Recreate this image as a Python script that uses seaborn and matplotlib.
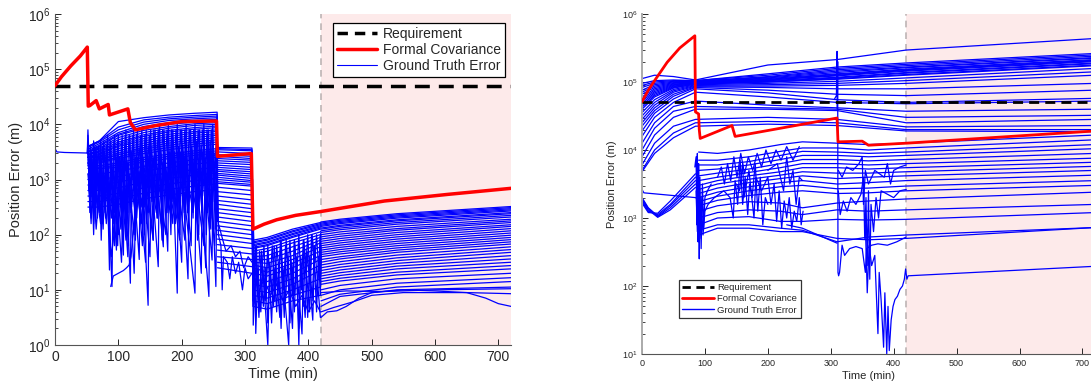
import numpy as np
import pandas as pd
import seaborn as sns
import matplotlib.pyplot as plt
from matplotlib.lines import Line2D

# 所有误差值以 log10(m) 记录

# ---------- 左图 ----------
left_red_t = [0, 10, 25, 40, 51, 52.5, 55, 65, 70, 84, 86, 115, 119, 127, 160, 200, 255,
              256.5, 310, 312.5, 330, 350, 380, 420, 520, 620, 720]
left_red_v = [4.70, 4.86, 5.06, 5.24, 5.40, 4.33, 4.34, 4.43, 4.28, 4.36, 4.17, 4.28, 4.03,
              3.90, 3.98, 4.05, 4.06, 3.42, 3.47, 2.10, 2.19, 2.27, 2.35, 2.42, 2.61, 2.73, 2.84]

left_pre_t = [0, 3, 15, 51]
left_pre_v = [3.56, 3.50, 3.49, 3.48]

# 阶段 B (52-256 min)
left_b_t = [52, 70, 100, 140, 180, 220, 256]
left_b = [
    [3.60, 3.70, 4.05, 4.12, 4.17, 4.20, 4.22],
    [3.60, 3.70, 3.95, 4.08, 4.13, 4.16, 4.18],
    [3.58, 3.68, 3.90, 4.04, 4.10, 4.13, 4.15],
    [3.55, 3.65, 3.85, 4.00, 4.07, 4.10, 4.12],
    [3.52, 3.62, 3.82, 3.96, 4.03, 4.07, 4.09],
    [3.50, 3.60, 3.80, 3.93, 4.00, 4.04, 4.06],
    [3.50, 3.57, 3.76, 3.89, 3.96, 4.01, 4.03],
    [3.50, 3.55, 3.72, 3.85, 3.93, 3.98, 4.00],
    [3.47, 3.52, 3.68, 3.81, 3.89, 3.94, 3.97],
    [3.45, 3.50, 3.65, 3.78, 3.86, 3.91, 3.94],
    [3.42, 3.47, 3.62, 3.74, 3.82, 3.87, 3.90],
    [3.40, 3.45, 3.60, 3.70, 3.78, 3.84, 3.87],
    [3.40, 3.42, 3.56, 3.66, 3.74, 3.80, 3.83],
    [3.40, 3.40, 3.52, 3.62, 3.70, 3.76, 3.80],
    [3.37, 3.37, 3.48, 3.58, 3.66, 3.72, 3.76],
    [3.35, 3.35, 3.45, 3.55, 3.62, 3.68, 3.72],
    [3.32, 3.32, 3.41, 3.51, 3.58, 3.64, 3.68],
    [3.30, 3.30, 3.38, 3.47, 3.54, 3.60, 3.64],
    [3.30, 3.25, 3.30, 3.40, 3.46, 3.52, 3.56],
    [3.25, 3.22, 3.26, 3.36, 3.42, 3.48, 3.52],
    [3.20, 3.20, 3.22, 3.32, 3.38, 3.44, 3.48],
    [3.10, 3.10, 3.15, 3.24, 3.30, 3.36, 3.40],
    [3.00, 3.00, 3.05, 3.15, 3.22, 3.28, 3.32],
    [2.90, 2.90, 2.95, 3.05, 3.12, 3.18, 3.22],
    [2.80, 2.80, 2.85, 2.95, 3.02, 3.08, 3.12],
    [2.70, 2.70, 2.75, 2.85, 2.92, 2.98, 3.02],
    [2.60, 2.60, 2.65, 2.75, 2.82, 2.88, 2.92],
    [2.50, 2.50, 2.55, 2.65, 2.72, 2.78, 2.82],
]

# 阶段 C (256-311 min)
left_c_t = [256.5, 311]
left_c = [
    [3.58, 3.57], [3.56, 3.54], [3.54, 3.52], [3.50, 3.47], [3.45, 3.42], [3.42, 3.38],
    [3.38, 3.35], [3.34, 3.31], [3.30, 3.27], [3.26, 3.22], [3.22, 3.18], [3.18, 3.14],
    [3.15, 3.10], [3.11, 3.06], [3.08, 3.02], [3.04, 2.98], [3.00, 2.95], [2.96, 2.91],
    [2.93, 2.88], [2.86, 2.80], [2.78, 2.72], [2.70, 2.63], [2.62, 2.55], [2.55, 2.47],
    [2.47, 2.40], [2.40, 2.32], [2.32, 2.24], [2.24, 2.16], [2.16, 2.08], [2.08, 2.00],
    [2.00, 1.92], [1.92, 1.84], [1.82, 1.75], [1.72, 1.65], [1.60, 1.55], [1.50, 1.42],
    [1.40, 1.30],
]

# 阶段 D (312-419 min)
left_d_t = [312.5, 335, 375, 419]
left_d = [
    [1.90, 1.95, 2.10, 2.22], [1.87, 1.92, 2.07, 2.20], [1.85, 1.90, 2.05, 2.18],
    [1.82, 1.87, 2.02, 2.16], [1.80, 1.85, 2.00, 2.14], [1.77, 1.82, 1.97, 2.12],
    [1.75, 1.80, 1.95, 2.10], [1.70, 1.75, 1.90, 2.05], [1.65, 1.70, 1.85, 2.00],
    [1.60, 1.62, 1.78, 1.95], [1.55, 1.55, 1.70, 1.90], [1.50, 1.48, 1.62, 1.85],
    [1.45, 1.40, 1.55, 1.78], [1.40, 1.32, 1.48, 1.70], [1.30, 1.25, 1.40, 1.62],
    [1.20, 1.15, 1.30, 1.55], [1.10, 1.05, 1.20, 1.45], [1.00, 0.95, 1.10, 1.35],
    [0.90, 0.85, 1.00, 1.20], [0.80, 0.75, 0.90, 1.05], [0.70, 0.65, 0.80, 0.90],
]

# 阶段 E (420-720 min)
left_e_t = [420, 450, 540, 720]
left_e = [
    [2.23, 2.28, 2.38, 2.51], [2.21, 2.26, 2.36, 2.49], [2.19, 2.24, 2.34, 2.47],
    [2.17, 2.22, 2.32, 2.45], [2.15, 2.20, 2.30, 2.43], [2.12, 2.17, 2.27, 2.40],
    [2.10, 2.15, 2.25, 2.38], [2.07, 2.12, 2.22, 2.35], [2.04, 2.09, 2.19, 2.32],
    [2.00, 2.05, 2.15, 2.28], [1.96, 2.01, 2.11, 2.25], [1.92, 1.97, 2.08, 2.22],
    [1.88, 1.93, 2.04, 2.18], [1.84, 1.89, 2.00, 2.15], [1.80, 1.85, 1.96, 2.11],
    [1.76, 1.81, 1.92, 2.07], [1.72, 1.77, 1.88, 2.03], [1.68, 1.73, 1.84, 1.99],
    [1.64, 1.69, 1.80, 1.95], [1.60, 1.65, 1.76, 1.91], [1.55, 1.60, 1.72, 1.87],
    [1.50, 1.56, 1.68, 1.83], [1.45, 1.51, 1.63, 1.78], [1.40, 1.46, 1.58, 1.73],
    [1.35, 1.41, 1.53, 1.68], [1.30, 1.36, 1.48, 1.62], [1.25, 1.31, 1.43, 1.56],
    [1.20, 1.26, 1.38, 1.50], [1.15, 1.21, 1.32, 1.44], [1.10, 1.16, 1.27, 1.38],
    [1.00, 1.08, 1.20, 1.30], [0.90, 1.00, 1.12, 1.22], [0.80, 0.92, 1.05, 1.15],
    [0.70, 0.88, 1.00, 1.05],
]

# 尖峰曲线: t, v, t, v, ...
left_spiky = [
    [51, 3.48, 52, 3.9, 54, 3.3, 56, 2.9, 58, 3.5, 61, 2.2, 63, 3.6, 66, 3.4, 70, 2.4, 72, 3.6,
     75, 2.2, 77, 3.5, 82, 3.3, 86, 1.36, 88, 3.4, 97, 1.72, 99, 3.5, 108, 1.63, 110, 3.6,
     119, 1.12, 121, 3.5, 133, 1.55, 135, 3.6, 147, 0.72, 149, 3.6, 163, 1.42, 165, 3.6,
     182, 2.39, 184, 3.7, 193, 0.94, 195, 3.6, 221, 0.94, 223, 3.7, 243, 0.88, 245, 3.7,
     254, 1.06, 256, 3.6],
    [51, 3.48, 52, 3.7, 55, 2.6, 58, 3.4, 62, 2.6, 65, 3.5, 68, 2.8, 71, 3.4, 80, 2.3, 82, 3.3,
     90, 1.06, 92, 3.3, 100, 2.0, 102, 3.4, 112, 1.9, 114, 3.3, 125, 2.0, 127, 3.4, 138, 1.8,
     140, 3.3, 155, 1.9, 157, 3.4, 171, 1.78, 173, 3.4, 186, 2.2, 188, 3.5, 200, 1.5, 202, 3.5,
     215, 1.8, 217, 3.5, 231, 1.3, 233, 3.5, 248, 1.54, 250, 3.5, 256, 3.3],
    [51, 3.48, 52, 3.5, 57, 2.2, 60, 3.2, 67, 2.5, 70, 3.2, 76, 2.1, 79, 3.1, 84, 2.5, 87, 3.0,
     94, 1.8, 96, 3.1, 104, 2.1, 106, 3.2, 116, 1.8, 118, 3.1, 128, 2.3, 130, 3.2, 143, 1.5,
     145, 3.2, 155, 1.9, 157, 3.3, 168, 2.2, 170, 3.3, 178, 1.7, 180, 3.3, 197, 1.9, 199, 3.4,
     210, 1.2, 212, 3.4, 227, 2.0, 229, 3.4, 238, 1.4, 240, 3.4, 252, 1.8, 256, 3.2],
    [52, 3.3, 60, 2.6, 64, 2.9, 72, 2.2, 75, 2.9, 83, 2.6, 89, 1.6, 93, 2.0, 98, 2.7, 105, 1.5,
     108, 2.8, 115, 1.6, 118, 2.9, 125, 1.3, 128, 2.9, 137, 2.2, 140, 3.0, 150, 1.6, 152, 3.0,
     160, 2.4, 163, 3.0, 175, 2.0, 177, 3.1, 190, 2.2, 192, 3.1, 205, 1.9, 207, 3.2, 218, 2.4,
     220, 3.2, 235, 1.8, 237, 3.2, 246, 2.1, 248, 3.2, 256, 3.0],
    [52, 3.8, 54, 2.8, 56, 3.6, 59, 2.5, 61, 3.7, 64, 2.3, 66, 3.6, 69, 2.7, 72, 3.7, 74, 2.4,
     77, 3.7, 80, 2.9, 83, 3.8, 85, 2.3, 88, 3.7, 91, 2.6, 94, 3.8, 97, 2.9, 100, 3.8, 103, 2.5,
     106, 3.8, 109, 2.8, 112, 3.9, 115, 2.4, 118, 3.8, 121, 2.9, 124, 3.9, 127, 2.6, 130, 3.9,
     134, 2.8, 137, 3.9, 141, 2.5, 144, 3.9, 148, 2.9, 151, 3.9, 155, 2.6, 158, 3.9, 162, 2.9,
     165, 4.0, 169, 2.5, 172, 3.9, 176, 2.8, 179, 4.0, 183, 2.6, 186, 3.9, 190, 2.9, 193, 4.0,
     197, 2.4, 200, 3.9, 204, 2.8, 207, 4.0, 211, 2.6, 214, 3.9, 218, 2.9, 221, 4.0, 225, 2.5,
     228, 3.9, 232, 2.8, 235, 4.0, 239, 2.6, 242, 3.9, 246, 2.9, 249, 4.0, 253, 2.5, 256, 3.9],
    [53, 3.4, 55, 2.4, 58, 3.3, 61, 2.0, 64, 3.2, 67, 2.3, 70, 3.3, 73, 1.9, 76, 3.2, 79, 2.4,
     82, 3.3, 85, 2.0, 88, 3.2, 92, 2.2, 95, 3.3, 99, 1.8, 102, 3.3, 106, 2.3, 109, 3.4, 113, 2.0,
     116, 3.3, 120, 2.4, 123, 3.4, 127, 1.9, 130, 3.4, 134, 2.3, 137, 3.4, 141, 2.0, 144, 3.5,
     148, 2.4, 151, 3.4, 155, 2.1, 158, 3.5, 162, 2.3, 165, 3.5, 169, 1.9, 172, 3.5, 176, 2.4,
     179, 3.5, 183, 2.0, 186, 3.6, 190, 2.3, 193, 3.5, 197, 2.0, 200, 3.6, 204, 2.4, 207, 3.6,
     211, 2.1, 214, 3.6, 218, 2.3, 221, 3.6, 225, 1.9, 228, 3.6, 232, 2.4, 235, 3.6, 239, 2.0,
     242, 3.6, 246, 2.3, 249, 3.6, 253, 2.1, 256, 3.5],
    [52, 3.1, 56, 2.6, 59, 3.0, 63, 2.4, 66, 3.1, 70, 2.7, 74, 3.2, 78, 2.5, 82, 3.2, 86, 2.7,
     90, 3.1, 94, 2.4, 98, 3.2, 102, 2.7, 106, 3.3, 110, 2.5, 114, 3.3, 118, 2.8, 122, 3.3,
     126, 2.5, 130, 3.3, 135, 2.7, 139, 3.4, 143, 2.6, 147, 3.4, 152, 2.8, 156, 3.4, 160, 2.5,
     164, 3.5, 168, 2.8, 172, 3.5, 177, 2.6, 181, 3.5, 185, 2.8, 189, 3.5, 194, 2.6, 198, 3.5,
     202, 2.9, 206, 3.6, 210, 2.6, 214, 3.6, 219, 2.8, 223, 3.6, 227, 2.6, 231, 3.6, 236, 2.9,
     240, 3.6, 244, 2.6, 248, 3.6, 252, 2.8, 256, 3.6],
    [52, 3.6, 55, 3.0, 57, 3.5, 60, 2.9, 63, 3.5, 66, 2.8, 69, 3.6, 72, 3.0, 75, 3.6, 78, 2.8,
     81, 3.6, 84, 3.0, 87, 3.7, 90, 2.9, 93, 3.7, 96, 3.1, 99, 3.7, 102, 2.9, 105, 3.7, 108, 3.1,
     111, 3.8, 114, 3.0, 117, 3.8, 120, 3.1, 123, 3.8, 126, 3.0, 129, 3.8, 132, 3.2, 135, 3.8,
     139, 3.0, 142, 3.8, 146, 3.2, 149, 3.8, 153, 3.0, 156, 3.9, 160, 3.2, 163, 3.9, 167, 3.0,
     170, 3.9, 174, 3.2, 177, 3.9, 181, 3.0, 184, 3.9, 188, 3.2, 191, 3.9, 195, 3.0, 198, 3.9,
     202, 3.2, 205, 3.9, 209, 3.0, 212, 3.9, 216, 3.2, 219, 3.9, 223, 3.1, 226, 3.9, 230, 3.2,
     233, 3.9, 237, 3.0, 240, 3.9, 244, 3.2, 247, 3.9, 251, 3.1, 256, 3.9],
    [53, 2.9, 57, 2.3, 61, 2.8, 65, 2.1, 69, 2.7, 73, 2.4, 77, 2.9, 81, 2.2, 85, 2.8, 89, 2.3,
     93, 2.9, 97, 2.2, 101, 3.0, 105, 2.4, 109, 3.0, 113, 2.2, 117, 3.0, 121, 2.5, 125, 3.1,
     129, 2.3, 133, 3.1, 137, 2.5, 141, 3.1, 145, 2.2, 149, 3.2, 153, 2.6, 157, 3.2, 161, 2.3,
     165, 3.2, 169, 2.6, 173, 3.3, 177, 2.4, 181, 3.3, 185, 2.6, 189, 3.3, 193, 2.3, 197, 3.3,
     201, 2.7, 205, 3.4, 209, 2.4, 213, 3.4, 217, 2.6, 221, 3.4, 225, 2.3, 229, 3.4, 233, 2.7,
     237, 3.4, 241, 2.4, 245, 3.5, 249, 2.6, 253, 3.4, 256, 3.0],
    [88, 1.06, 92, 1.25, 100, 1.3, 108, 1.35, 113, 1.4, 117, 1.45, 120, 1.6, 125, 2.2, 130, 2.8],
    [256, 3.4, 258, 2.0, 262, 1.8, 264, 1.0, 266, 1.6, 272, 1.5, 276, 1.2, 280, 1.6, 285, 1.3,
     290, 1.5, 296, 1.0, 300, 1.4, 305, 1.2, 311, 1.3],
    [256, 3.2, 258, 2.2, 265, 1.9, 270, 1.7, 278, 1.8, 285, 1.6, 292, 1.7, 298, 1.4, 305, 1.6,
     311, 1.5],
    [312, 2.3, 313, 0.36, 316, 1.2, 317, 0.21, 320, 1.3, 325, 0.6, 328, 1.4, 336, 0.0, 339, 1.5,
     345, 0.7, 348, 1.5, 355, 0.5, 358, 1.5, 369, 0.0, 372, 1.6, 378, 0.6, 381, 1.6, 385, 0.0,
     388, 1.6, 395, 0.5, 398, 1.7, 407, 0.45, 410, 1.8, 419, 0.5],
    [312, 3.0, 314, 1.0, 318, 1.8, 322, 0.6, 326, 1.7, 332, 0.8, 336, 1.8, 342, 0.4, 346, 1.8,
     352, 0.9, 356, 1.9, 362, 0.5, 365, 1.9, 375, 0.3, 378, 1.9, 390, 0.2, 393, 1.9, 402, 0.6,
     405, 2.0, 414, 0.9, 419, 2.0],
    [312, 2.6, 315, 1.5, 320, 0.9, 330, 1.2, 340, 0.9, 350, 1.1, 360, 0.8, 370, 1.0, 380, 0.7,
     390, 0.9, 400, 0.6, 410, 0.8, 419, 0.6],
    [312, 1.9, 314, 1.2, 317, 1.8, 320, 1.0, 323, 1.7, 326, 1.3, 330, 1.8, 333, 0.9, 336, 1.7,
     340, 1.2, 343, 1.8, 347, 0.8, 350, 1.8, 354, 1.3, 357, 1.9, 361, 1.0, 364, 1.8, 368, 1.4,
     371, 1.9, 375, 0.9, 378, 1.9, 382, 1.3, 385, 2.0, 389, 1.0, 392, 1.9, 396, 1.4, 399, 2.0,
     403, 1.1, 406, 2.0, 410, 1.5, 413, 2.0, 417, 1.2, 419, 2.0],
    [312, 1.5, 315, 0.8, 318, 1.4, 322, 0.5, 325, 1.3, 329, 0.7, 332, 1.4, 336, 0.4, 339, 1.3,
     343, 0.9, 346, 1.4, 350, 0.6, 353, 1.5, 357, 0.3, 360, 1.4, 364, 0.8, 367, 1.5, 371, 0.4,
     374, 1.5, 378, 0.9, 381, 1.5, 385, 0.3, 388, 1.5, 392, 0.7, 395, 1.6, 399, 0.5, 402, 1.6,
     406, 0.8, 409, 1.6, 413, 0.6, 416, 1.6, 419, 0.9],
    [420, 0.5, 430, 0.6, 445, 0.62, 460, 0.7, 480, 0.85, 500, 0.95, 550, 1.0, 600, 0.98,
     650, 0.95, 680, 0.85, 700, 0.75, 720, 0.7],
    [420, 0.6, 440, 0.68, 470, 0.78, 500, 0.9, 550, 0.95, 650, 0.95, 720, 0.93],
    [420, 0.95, 460, 0.98, 520, 0.97, 600, 1.0, 720, 1.02],
]

# ---------- 右图 ----------
right_red_t = [0, 10, 20, 40, 60, 84, 85, 90, 91, 92.5, 143, 148, 310, 311.5, 350, 360, 420, 720]
right_red_v = [4.71, 4.88, 5.02, 5.29, 5.50, 5.68, 4.56, 4.53, 4.30, 4.17, 4.36, 4.20, 4.47,
               4.12, 4.13, 4.07, 4.10, 4.28]

right_top_t = [0, 20, 50, 85, 200, 310, 420, 720]
right_top = [
    [5.05, 5.10, 5.08, 5.03, 5.25, 5.33, 5.47, 5.64],
    [4.98, 5.02, 5.03, 5.02, 5.12, 5.22, 5.28, 5.42],
    [4.95, 5.00, 5.02, 5.02, 5.10, 5.20, 5.26, 5.40],
    [4.92, 4.98, 5.01, 5.01, 5.08, 5.18, 5.24, 5.38],
    [4.88, 4.96, 5.00, 5.01, 5.07, 5.16, 5.22, 5.36],
    [4.85, 4.94, 4.99, 5.00, 5.06, 5.14, 5.21, 5.35],
    [4.82, 4.92, 4.98, 5.00, 5.05, 5.12, 5.19, 5.33],
    [4.78, 4.90, 4.97, 4.99, 5.04, 5.11, 5.18, 5.32],
    [4.75, 4.88, 4.96, 4.99, 5.03, 5.10, 5.17, 5.31],
    [4.72, 4.86, 4.95, 4.99, 5.03, 5.09, 5.16, 5.30],
    [4.69, 4.84, 4.94, 4.98, 5.02, 5.07, 5.14, 5.28],
    [4.66, 4.82, 4.93, 4.98, 5.01, 5.06, 5.13, 5.27],
    [4.63, 4.80, 4.92, 4.97, 5.00, 5.05, 5.11, 5.25],
    [4.60, 4.78, 4.91, 4.97, 5.00, 5.04, 5.10, 5.24],
    [4.55, 4.74, 4.89, 4.96, 4.98, 5.01, 5.06, 5.20],
    [4.50, 4.70, 4.87, 4.95, 4.96, 4.98, 5.02, 5.15],
    [4.45, 4.66, 4.85, 4.94, 4.94, 4.95, 4.98, 5.10],
    [4.40, 4.62, 4.82, 4.93, 4.92, 4.90, 4.90, 4.98],
    [4.35, 4.58, 4.79, 4.92, 4.88, 4.82, 4.80, 4.88],
    [4.28, 4.54, 4.75, 4.90, 4.84, 4.74, 4.70, 4.76],
    [4.20, 4.48, 4.70, 4.85, 4.78, 4.70, 4.68, 4.72],
    [4.10, 4.40, 4.64, 4.72, 4.66, 4.62, 4.57, 4.60],
    [4.00, 4.32, 4.57, 4.64, 4.62, 4.60, 4.48, 4.51],
    [3.90, 4.22, 4.48, 4.60, 4.60, 4.58, 4.40, 4.45],
    [3.78, 4.10, 4.35, 4.45, 4.48, 4.45, 4.34, 4.36],
    [3.70, 4.00, 4.25, 4.40, 4.42, 4.40, 4.30, 4.30],
    [3.68, 3.95, 4.18, 4.35, 4.38, 4.36, 4.28, 4.27],
]

right_low_t = [0, 10, 25, 45, 85]
right_low = [
    [3.30, 3.15, 3.03, 3.18, 3.55],
    [3.28, 3.14, 3.02, 3.15, 3.50],
    [3.26, 3.12, 3.01, 3.12, 3.45],
    [3.24, 3.10, 3.05, 3.20, 3.60],
    [3.22, 3.08, 3.07, 3.25, 3.65],
]

right_mid_t = [90, 120, 170, 220, 255, 310, 360, 420, 720]
right_mid = [
    [3.97, 3.95, 4.00, 4.08, 4.12, 4.10, 4.08, 4.10, 4.22],
    [3.85, 3.85, 3.90, 3.98, 4.03, 4.03, 4.00, 4.03, 4.15],
    [3.78, 3.78, 3.83, 3.92, 3.98, 3.97, 3.95, 3.97, 4.08],
    [3.70, 3.72, 3.78, 3.86, 3.92, 3.92, 3.90, 3.92, 4.02],
    [3.62, 3.66, 3.72, 3.80, 3.86, 3.86, 3.84, 3.86, 3.95],
    [3.55, 3.60, 3.67, 3.74, 3.80, 3.80, 3.78, 3.80, 3.88],
    [3.48, 3.55, 3.62, 3.68, 3.74, 3.74, 3.72, 3.74, 3.82],
    [3.42, 3.50, 3.57, 3.63, 3.68, 3.66, 3.66, 3.68, 3.76],
    [3.36, 3.44, 3.52, 3.58, 3.62, 3.58, 3.60, 3.62, 3.70],
    [3.30, 3.38, 3.46, 3.52, 3.55, 3.50, 3.52, 3.55, 3.63],
    [3.24, 3.32, 3.40, 3.46, 3.48, 3.43, 3.44, 3.47, 3.55],
    [3.18, 3.26, 3.33, 3.38, 3.40, 3.36, 3.37, 3.40, 3.48],
    [3.10, 3.18, 3.24, 3.22, 3.15, 3.22, 3.25, 3.28, 3.38],
    [3.00, 3.08, 3.12, 3.10, 3.05, 3.12, 3.10, 3.12, 3.20],
    [2.90, 3.00, 3.02, 2.95, 2.95, 2.98, 2.97, 2.98, 3.08],
    [2.82, 2.90, 2.90, 2.85, 2.82, 2.65, 2.72, 2.75, 2.86],
    [2.75, 2.85, 2.85, 2.80, 2.80, 2.70, 2.68, 2.70, 2.86],
]

right_spiky = [
    [0, 3.42, 3, 3.37, 85, 3.30, 88, 3.28],
    [306, 4.75, 309, 4.8, 310, 5.45, 310.5, 4.6, 311, 5.3, 311.5, 2.2, 312.5, 2.15, 314, 2.2,
     318, 2.6, 322, 2.45, 330, 2.55, 340, 2.58, 350, 2.55, 355, 2.2, 357, 2.55, 365, 2.6,
     375, 2.62, 390, 2.6, 405, 2.65, 420, 2.72],
    [355, 2.9, 358, 1.9, 361, 2.6, 365, 2.3, 370, 2.45, 375, 1.3, 377, 2.2, 380, 1.8, 384, 1.1,
     386, 1.9, 389, 1.0, 391, 1.7, 393, 1.05, 396, 1.5, 399, 1.7, 402, 1.8, 406, 1.85, 410, 1.95,
     414, 2.0, 417, 2.1, 419, 2.25, 421, 2.1, 423, 2.15, 720, 2.29],
    [84, 3.75, 86, 3.9, 87, 2.9, 88, 3.95, 89, 2.65, 90, 3.8, 91, 2.4, 92, 3.6, 94, 2.55,
     96, 3.5, 98, 2.85, 100, 3.3, 104, 3.4, 110, 3.5],
    [86, 3.4, 88, 2.8, 90, 3.6, 92, 2.7, 94, 3.3, 97, 2.75, 100, 3.1, 105, 3.2, 115, 3.3,
     130, 3.4, 140, 3.3, 145, 3.0, 148, 3.55, 152, 3.2, 156, 3.85, 160, 3.2, 164, 3.6, 168, 3.05,
     171, 3.5, 175, 3.3, 180, 3.8, 184, 3.1, 188, 3.6, 192, 2.9, 196, 3.3, 200, 3.2],
    [150, 3.5, 155, 3.4, 160, 3.8, 162, 3.3, 170, 3.7, 178, 3.0, 181, 3.6, 190, 3.4, 200, 3.6,
     205, 3.2, 210, 3.5, 214, 2.95, 218, 3.4, 222, 2.85, 226, 3.25, 230, 3.0, 234, 3.3,
     238, 2.85, 242, 3.1, 246, 2.95, 250, 3.3, 253, 2.9, 256, 3.1],
    [200, 3.7, 215, 3.8, 225, 3.4, 230, 3.9, 235, 3.5, 240, 3.7, 245, 3.2, 250, 3.6, 255, 3.55],
    [120, 3.6, 126, 3.75, 131, 3.5, 136, 3.8, 141, 3.55, 146, 3.9, 151, 3.6, 157, 3.95, 163, 3.65,
     169, 3.9, 176, 3.7, 183, 3.95, 190, 3.75, 197, 4.0, 205, 3.8, 213, 4.0, 221, 3.85, 230, 4.05,
     240, 3.85, 250, 4.05],
    [312, 3.4, 315, 3.05, 320, 3.25, 326, 3.1, 332, 3.3, 340, 3.2, 348, 3.35, 352, 3.6, 354, 2.7,
     356, 3.3, 358, 2.3, 360, 3.4, 362, 2.1, 364, 3.2, 368, 2.8, 372, 3.3, 376, 3.0, 380, 3.4,
     390, 3.35, 400, 3.3, 410, 3.4, 420, 3.42],
    [312, 3.7, 318, 3.6, 325, 3.75, 335, 3.7, 345, 3.8, 350, 3.9, 352, 3.2, 355, 3.7, 360, 3.5,
     370, 3.7, 385, 3.6, 390, 3.8, 395, 3.5, 400, 3.7, 410, 3.75, 420, 3.78],
    [230, 2.9, 255, 2.85, 310, 2.63],
]

requirement = 5e4


def join_phases(phases):
    # 相邻阶段的第 i 条曲线首尾相连
    lines = []
    n = max(len(rows) for _, rows in phases)
    for i in range(n):
        cur_t, cur_v = [], []
        for t, rows in phases:
            if i < len(rows):
                cur_t += list(t)
                cur_v += list(rows[i])
            elif cur_t:
                lines.append((cur_t, cur_v))
                cur_t, cur_v = [], []
        if cur_t:
            lines.append((cur_t, cur_v))
    return lines


def spiky(rows):
    return [(r[0::2], r[1::2]) for r in rows]


def to_frame(lines):
    recs = []
    for k, (t, v) in enumerate(lines):
        for a, b in zip(t, v):
            recs.append((k, a, 10 ** b))
    return pd.DataFrame(recs, columns=['run', 'time', 'err'])


left_lines = ([(left_pre_t, left_pre_v)]
              + join_phases([(left_b_t, left_b), (left_c_t, left_c),
                             (left_d_t, left_d), (left_e_t, left_e)])
              + spiky(left_spiky))
right_lines = ([(right_top_t, r) for r in right_top]
               + [(right_low_t, r) for r in right_low]
               + [(right_mid_t, r) for r in right_mid]
               + spiky(right_spiky))
df_left = to_frame(left_lines)
df_right = to_frame(right_lines)

# ---------- 绘图 ----------
sns.set_style('ticks')
plt.rcParams['font.family'] = ['Liberation Sans', 'DejaVu Sans']
plt.rcParams['text.color'] = '#262626'
plt.rcParams['axes.labelcolor'] = '#262626'

fig = plt.figure(figsize=(10.91, 3.89), dpi=100)
ax1 = fig.add_axes([55 / 1091, 44 / 389, 456 / 1091, 331 / 389])
ax2 = fig.add_axes([642 / 1091, 35 / 389, 453 / 1091, 340 / 389])


def style_axes(ax, ylim, tick_fs, label_fs, spine_col):
    ax.set_yscale('log')
    ax.set_xlim(0, 720)
    ax.set_ylim(*ylim)
    ax.set_xticks(range(0, 701, 100))
    ax.axvspan(420, 720, color='#fdeaea', zorder=0, lw=0)
    ax.axvline(420, color='#bdb4b4', ls=(0, (4, 3)), lw=1.2, zorder=1)
    for s in ['top', 'right']:
        ax.spines[s].set_visible(False)
    ax.spines['bottom'].set_color('#555555')
    ax.spines['left'].set_color(spine_col)
    ax.tick_params(which='both', direction='in', colors='#262626', labelsize=tick_fs)
    ax.tick_params(which='major', length=4, width=0.7)
    ax.tick_params(which='minor', length=2.2, width=0.6)
    ax.tick_params(axis='x', which='minor', bottom=False)
    ax.set_xlabel('Time (min)', fontsize=label_fs, labelpad=2)
    ax.set_ylabel('Position Error (m)', fontsize=label_fs, labelpad=3)


# 左图
sns.lineplot(data=df_left, x='time', y='err', units='run', estimator=None, sort=False,
             color='#0000ff', lw=0.9, ax=ax1, legend=False, zorder=2)
ax1.axhline(requirement, color='black', ls=(0, (4.3, 2.6)), lw=2.5, zorder=3)
sns.lineplot(x=left_red_t, y=10 ** np.array(left_red_v), estimator=None, sort=False,
             color='#ff0000', lw=2.5, ax=ax1, zorder=4)
style_axes(ax1, (1, 1e6), 10, 10.5, '#555555')

# 右图
sns.lineplot(data=df_right, x='time', y='err', units='run', estimator=None, sort=False,
             color='#0000ff', lw=0.9, ax=ax2, legend=False, zorder=2)
ax2.axhline(requirement, color='black', ls=(0, (3.6, 2.2)), lw=2, zorder=3)
sns.lineplot(x=right_red_t, y=10 ** np.array(right_red_v), estimator=None, sort=False,
             color='#ff0000', lw=2, ax=ax2, zorder=4)
style_axes(ax2, (10, 1e6), 6.5, 8, '#aaaaaa')
ax2.spines['left'].set_linewidth(1.4)


def legend_handles(lw_req, lw_red, lw_blue):
    return [Line2D([], [], color='black', ls=(0, (3, 2)), lw=lw_req),
            Line2D([], [], color='#ff0000', lw=lw_red),
            Line2D([], [], color='#0000ff', lw=lw_blue)]


labels = ['Requirement', 'Formal Covariance', 'Ground Truth Error']
leg1 = ax1.legend(legend_handles(2.5, 2.5, 0.8), labels, loc='upper right',
                  bbox_to_anchor=(0.987, 0.973), borderaxespad=0, fontsize=10,
                  handlelength=2.9, labelspacing=0.15, handletextpad=0.4, borderpad=0.3,
                  fancybox=False, framealpha=1, edgecolor='black')
leg1.get_frame().set_linewidth(0.9)
leg2 = ax2.legend(legend_handles(2, 2, 1), labels, loc='lower left',
                  bbox_to_anchor=(0.082, 0.106), borderaxespad=0, fontsize=6.8,
                  handlelength=3.3, labelspacing=0.25, handletextpad=0.4, borderpad=0.35,
                  fancybox=False, framealpha=1, edgecolor='#333333')
leg2.get_frame().set_linewidth(0.9)

fig.savefig('out.png', dpi=100)
